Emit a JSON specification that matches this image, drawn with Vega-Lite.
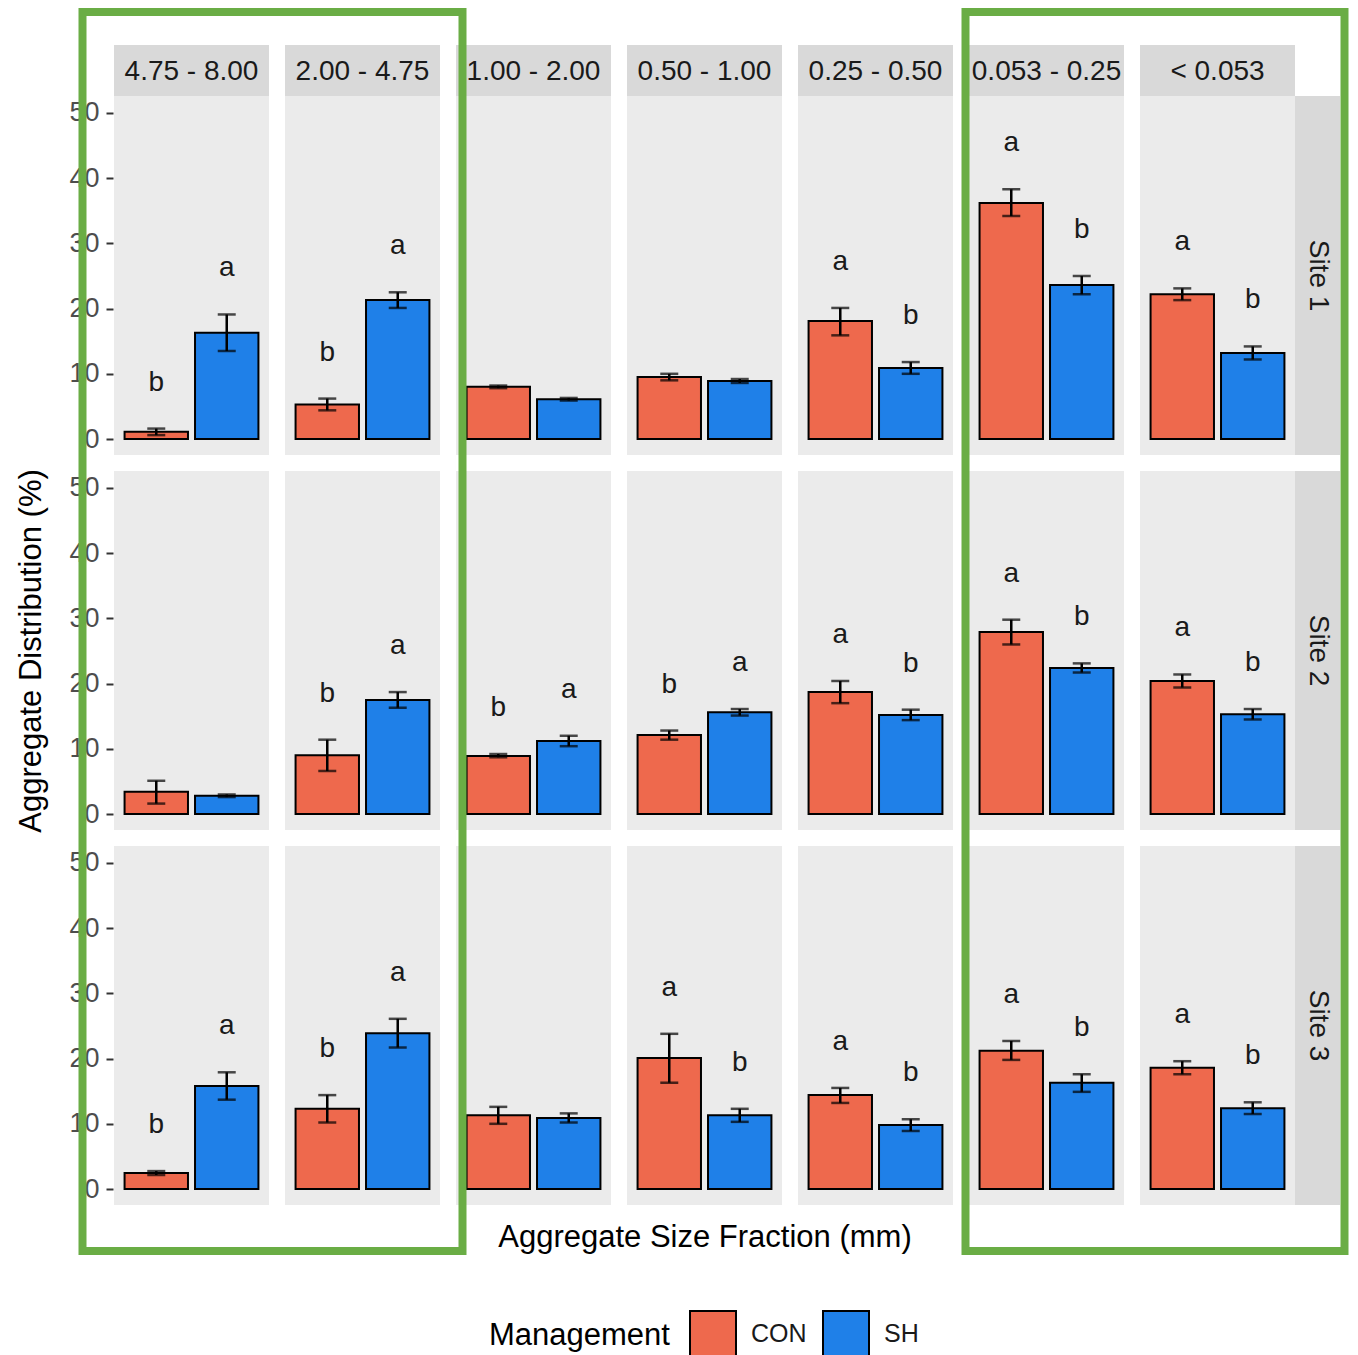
{
  "$schema": "https://vega.github.io/schema/vega-lite/v6.json",
  "background": "white",
  "padding": {"left": 15, "top": 8, "right": 0, "bottom": 0},
  "config": {
    "font": "Liberation Sans",
    "view": {"stroke": null},
    "text": {"font": "Liberation Sans"}
  },
  "datasets": {
    "agg": [
      {"site": "Site 1", "fraction": "4.75 - 8.00", "mgmt": "CON", "mean": 1.1, "lo": 0.6, "hi": 1.6, "letter": "b"},
      {"site": "Site 1", "fraction": "4.75 - 8.00", "mgmt": "SH", "mean": 16.3, "lo": 13.5, "hi": 19.1, "letter": "a"},
      {"site": "Site 1", "fraction": "2.00 - 4.75", "mgmt": "CON", "mean": 5.3, "lo": 4.4, "hi": 6.2, "letter": "b"},
      {"site": "Site 1", "fraction": "2.00 - 4.75", "mgmt": "SH", "mean": 21.3, "lo": 20.1, "hi": 22.5, "letter": "a"},
      {"site": "Site 1", "fraction": "1.00 - 2.00", "mgmt": "CON", "mean": 8.0, "lo": 7.8, "hi": 8.2, "letter": ""},
      {"site": "Site 1", "fraction": "1.00 - 2.00", "mgmt": "SH", "mean": 6.1, "lo": 5.9, "hi": 6.3, "letter": ""},
      {"site": "Site 1", "fraction": "0.50 - 1.00", "mgmt": "CON", "mean": 9.5, "lo": 9.0, "hi": 10.0, "letter": ""},
      {"site": "Site 1", "fraction": "0.50 - 1.00", "mgmt": "SH", "mean": 8.9, "lo": 8.6, "hi": 9.2, "letter": ""},
      {"site": "Site 1", "fraction": "0.25 - 0.50", "mgmt": "CON", "mean": 18.1, "lo": 15.9, "hi": 20.1, "letter": "a"},
      {"site": "Site 1", "fraction": "0.25 - 0.50", "mgmt": "SH", "mean": 10.9, "lo": 10.0, "hi": 11.8, "letter": "b"},
      {"site": "Site 1", "fraction": "0.053 - 0.25", "mgmt": "CON", "mean": 36.2, "lo": 34.2, "hi": 38.3, "letter": "a"},
      {"site": "Site 1", "fraction": "0.053 - 0.25", "mgmt": "SH", "mean": 23.6, "lo": 22.2, "hi": 25.0, "letter": "b"},
      {"site": "Site 1", "fraction": "< 0.053", "mgmt": "CON", "mean": 22.2, "lo": 21.3, "hi": 23.1, "letter": "a"},
      {"site": "Site 1", "fraction": "< 0.053", "mgmt": "SH", "mean": 13.2, "lo": 12.2, "hi": 14.2, "letter": "b"},
      {"site": "Site 2", "fraction": "4.75 - 8.00", "mgmt": "CON", "mean": 3.4, "lo": 1.6, "hi": 5.1, "letter": ""},
      {"site": "Site 2", "fraction": "4.75 - 8.00", "mgmt": "SH", "mean": 2.8, "lo": 2.6, "hi": 3.0, "letter": ""},
      {"site": "Site 2", "fraction": "2.00 - 4.75", "mgmt": "CON", "mean": 9.0, "lo": 6.6, "hi": 11.4, "letter": "b"},
      {"site": "Site 2", "fraction": "2.00 - 4.75", "mgmt": "SH", "mean": 17.5, "lo": 16.3, "hi": 18.7, "letter": "a"},
      {"site": "Site 2", "fraction": "1.00 - 2.00", "mgmt": "CON", "mean": 8.9, "lo": 8.7, "hi": 9.2, "letter": "b"},
      {"site": "Site 2", "fraction": "1.00 - 2.00", "mgmt": "SH", "mean": 11.2, "lo": 10.4, "hi": 12.0, "letter": "a"},
      {"site": "Site 2", "fraction": "0.50 - 1.00", "mgmt": "CON", "mean": 12.1, "lo": 11.4, "hi": 12.8, "letter": "b"},
      {"site": "Site 2", "fraction": "0.50 - 1.00", "mgmt": "SH", "mean": 15.6, "lo": 15.1, "hi": 16.1, "letter": "a"},
      {"site": "Site 2", "fraction": "0.25 - 0.50", "mgmt": "CON", "mean": 18.7, "lo": 17.0, "hi": 20.4, "letter": "a"},
      {"site": "Site 2", "fraction": "0.25 - 0.50", "mgmt": "SH", "mean": 15.2, "lo": 14.4, "hi": 16.0, "letter": "b"},
      {"site": "Site 2", "fraction": "0.053 - 0.25", "mgmt": "CON", "mean": 27.9, "lo": 26.0, "hi": 29.8, "letter": "a"},
      {"site": "Site 2", "fraction": "0.053 - 0.25", "mgmt": "SH", "mean": 22.4, "lo": 21.7, "hi": 23.1, "letter": "b"},
      {"site": "Site 2", "fraction": "< 0.053", "mgmt": "CON", "mean": 20.4, "lo": 19.4, "hi": 21.4, "letter": "a"},
      {"site": "Site 2", "fraction": "< 0.053", "mgmt": "SH", "mean": 15.3, "lo": 14.5, "hi": 16.1, "letter": "b"},
      {"site": "Site 3", "fraction": "4.75 - 8.00", "mgmt": "CON", "mean": 2.45, "lo": 2.15, "hi": 2.75, "letter": "b"},
      {"site": "Site 3", "fraction": "4.75 - 8.00", "mgmt": "SH", "mean": 15.8, "lo": 13.7, "hi": 17.9, "letter": "a"},
      {"site": "Site 3", "fraction": "2.00 - 4.75", "mgmt": "CON", "mean": 12.3, "lo": 10.2, "hi": 14.4, "letter": "b"},
      {"site": "Site 3", "fraction": "2.00 - 4.75", "mgmt": "SH", "mean": 23.9, "lo": 21.7, "hi": 26.1, "letter": "a"},
      {"site": "Site 3", "fraction": "1.00 - 2.00", "mgmt": "CON", "mean": 11.3, "lo": 10.0, "hi": 12.6, "letter": ""},
      {"site": "Site 3", "fraction": "1.00 - 2.00", "mgmt": "SH", "mean": 10.9, "lo": 10.2, "hi": 11.6, "letter": ""},
      {"site": "Site 3", "fraction": "0.50 - 1.00", "mgmt": "CON", "mean": 20.1, "lo": 16.3, "hi": 23.8, "letter": "a"},
      {"site": "Site 3", "fraction": "0.50 - 1.00", "mgmt": "SH", "mean": 11.3, "lo": 10.3, "hi": 12.3, "letter": "b"},
      {"site": "Site 3", "fraction": "0.25 - 0.50", "mgmt": "CON", "mean": 14.4, "lo": 13.2, "hi": 15.5, "letter": "a"},
      {"site": "Site 3", "fraction": "0.25 - 0.50", "mgmt": "SH", "mean": 9.8, "lo": 8.9, "hi": 10.7, "letter": "b"},
      {"site": "Site 3", "fraction": "0.053 - 0.25", "mgmt": "CON", "mean": 21.2, "lo": 19.8, "hi": 22.7, "letter": "a"},
      {"site": "Site 3", "fraction": "0.053 - 0.25", "mgmt": "SH", "mean": 16.3, "lo": 14.9, "hi": 17.6, "letter": "b"},
      {"site": "Site 3", "fraction": "< 0.053", "mgmt": "CON", "mean": 18.6, "lo": 17.6, "hi": 19.6, "letter": "a"},
      {"site": "Site 3", "fraction": "< 0.053", "mgmt": "SH", "mean": 12.4, "lo": 11.5, "hi": 13.3, "letter": "b"}
    ]
  },
  "spacing": 0,
  "hconcat": [
    {
      "spacing": 0,
      "vconcat": [
        {
          "data": {"values": [{}]},
          "width": 1,
          "height": 88,
          "mark": {"type": "point", "opacity": 0, "size": 0, "strokeWidth": 0},
          "encoding": {}
        },
        {
          "data": {"name": "agg"},
          "facet": {
            "row": {
              "field": "site",
              "type": "nominal",
              "header": {
                "labels": false,
                "title": "Aggregate Distribution (%)",
                "titleFont": "Liberation Sans",
                "titleFontSize": 31,
                "titleFontWeight": "normal",
                "titleColor": "#000000",
                "titlePadding": 10
              }
            }
          },
          "spacing": {"row": 16},
          "spec": {
            "width": 1,
            "height": 359,
            "mark": {"type": "point", "opacity": 0, "size": 0, "strokeWidth": 0},
            "encoding": {
              "y": {
                "field": "mean",
                "type": "quantitative",
                "scale": {"domain": [-2.45, 52.6], "nice": false, "zero": false},
                "axis": {
                  "values": [0, 10, 20, 30, 40, 50],
                  "grid": false,
                  "domain": false,
                  "ticks": true,
                  "tickSize": 7,
                  "tickWidth": 2,
                  "tickColor": "#333333",
                  "labelFont": "Liberation Sans",
                  "labelFontSize": 27,
                  "labelColor": "#4D4D4D",
                  "labelPadding": 7,
                  "title": null
                }
              }
            }
          }
        }
      ]
    },
    {
      "spacing": 0,
      "vconcat": [
        {
          "data": {"name": "agg"},
          "width": 1,
          "height": 37,
          "mark": {"type": "point", "size": 0, "strokeWidth": 0, "filled": true, "opacity": 1},
          "encoding": {
            "fill": {
              "field": "mean",
              "type": "quantitative",
              "scale": {"range": ["rgba(0,0,0,0)", "rgba(0,0,0,0)"]},
              "legend": {
                "title": null,
                "type": "gradient",
                "orient": "none",
                "direction": "vertical",
                "legendX": -30.5,
                "legendY": 4,
                "gradientThickness": 380,
                "gradientLength": 1239,
                "gradientStrokeColor": "#6AAD45",
                "gradientStrokeWidth": 8,
                "labelOpacity": 0,
                "labelFontSize": 1
              }
            },
            "stroke": {
              "field": "hi",
              "type": "quantitative",
              "scale": {"range": ["rgba(0,0,0,0)", "rgba(0,0,0,0)"]},
              "legend": {
                "title": null,
                "type": "gradient",
                "orient": "none",
                "direction": "vertical",
                "legendX": 852.5,
                "legendY": 4,
                "gradientThickness": 379,
                "gradientLength": 1239,
                "gradientStrokeColor": "#6AAD45",
                "gradientStrokeWidth": 8,
                "labelOpacity": 0,
                "labelFontSize": 1
              }
            }
          }
        },
        {
          "data": {"name": "agg"},
          "transform": [{"aggregate": [{"op": "count", "as": "n"}], "groupby": ["fraction"]}],
          "facet": {
            "column": {
              "field": "fraction",
              "type": "nominal",
              "sort": ["4.75 - 8.00", "2.00 - 4.75", "1.00 - 2.00", "0.50 - 1.00", "0.25 - 0.50", "0.053 - 0.25", "< 0.053"],
              "header": null
            }
          },
          "spacing": {"column": 16},
          "spec": {
            "width": 155,
            "height": 51,
            "view": {"fill": "#D9D9D9", "stroke": null},
            "mark": {"type": "text", "fontSize": 28, "color": "#1A1A1A", "baseline": "middle", "align": "center", "dy": 1},
            "encoding": {"text": {"field": "fraction", "type": "nominal"}}
          }
        },
        {
          "spacing": 0,
          "hconcat": [
            {
              "data": {"name": "agg"},
              "facet": {
                "row": {"field": "site", "type": "nominal", "header": null},
                "column": {
                  "field": "fraction",
                  "type": "nominal",
                  "sort": ["4.75 - 8.00", "2.00 - 4.75", "1.00 - 2.00", "0.50 - 1.00", "0.25 - 0.50", "0.053 - 0.25", "< 0.053"],
                  "header": {
                    "labels": false,
                    "title": "Aggregate Size Fraction (mm)",
                    "titleOrient": "bottom",
                    "titleFont": "Liberation Sans",
                    "titleFontSize": 31,
                    "titleFontWeight": "normal",
                    "titleColor": "#000000",
                    "titlePadding": 8
                  }
                }
              },
              "spacing": {"row": 16, "column": 16},
              "spec": {
                "width": 155,
                "height": 359,
                "view": {"fill": "#EBEBEB", "stroke": null},
                "encoding": {
                  "x": {
                    "field": "mgmt",
                    "type": "nominal",
                    "scale": {"domain": ["CON", "SH"], "paddingInner": 0.1, "paddingOuter": 0.15},
                    "axis": null
                  }
                },
                "layer": [
                  {
                    "mark": {"type": "bar", "stroke": "black", "strokeWidth": 2, "opacity": 1},
                    "encoding": {
                      "y": {
                        "field": "mean",
                        "type": "quantitative",
                        "scale": {"domain": [-2.45, 52.6], "nice": false, "zero": false},
                        "axis": {
                          "values": [5, 15, 25, 35, 45],
                          "grid": true,
                          "gridColor": "#FFFFFF",
                          "gridWidth": 2,
                          "labels": false,
                          "ticks": false,
                          "domain": false,
                          "title": null
                        }
                      },
                      "y2": {"datum": 0},
                      "color": {
                        "field": "mgmt",
                        "type": "nominal",
                        "scale": {"domain": ["CON", "SH"], "range": ["#EE694D", "#1F80E8"]},
                        "legend": {
                          "title": "Management",
                          "orient": "none",
                          "legendX": 376,
                          "legendY": 1302,
                          "direction": "horizontal",
                          "titleOrient": "left",
                          "titleFont": "Liberation Sans",
                          "titleFontSize": 31,
                          "titleFontWeight": "normal",
                          "titleColor": "#000000",
                          "titleLimit": 400,
                          "titlePadding": 19,
                          "titleAnchor": "middle",
                          "labelFont": "Liberation Sans",
                          "labelFontSize": 25,
                          "labelColor": "#1A1A1A",
                          "labelOffset": 14,
                          "columnPadding": 12,
                          "symbolType": "square",
                          "symbolSize": 2116,
                          "symbolStrokeColor": "#000000",
                          "symbolStrokeWidth": 2,
                          "symbolOpacity": 1
                        }
                      }
                    }
                  },
                  {
                    "mark": {"type": "errorbar", "ticks": true, "size": 18, "thickness": 2.5, "color": "black"},
                    "encoding": {
                      "y": {"field": "lo", "type": "quantitative", "scale": {"domain": [-2.45, 52.6], "nice": false, "zero": false}, "axis": null},
                      "y2": {"field": "hi"}
                    }
                  },
                  {
                    "mark": {"type": "text", "fontSize": 28, "color": "#1A1A1A", "baseline": "middle", "dy": -46},
                    "encoding": {
                      "y": {"field": "hi", "type": "quantitative", "scale": {"domain": [-2.45, 52.6], "nice": false, "zero": false}, "axis": null},
                      "text": {"field": "letter", "type": "nominal"}
                    }
                  }
                ]
              }
            },
            {
              "data": {"name": "agg"},
              "transform": [{"aggregate": [{"op": "count", "as": "n"}], "groupby": ["site"]}],
              "facet": {"row": {"field": "site", "type": "nominal", "header": null}},
              "spacing": {"row": 16},
              "spec": {
                "width": 45,
                "height": 359,
                "view": {"fill": "#D9D9D9", "stroke": null},
                "mark": {"type": "text", "fontSize": 28, "color": "#1A1A1A", "baseline": "middle", "align": "center", "angle": 90},
                "encoding": {"text": {"field": "site", "type": "nominal"}}
              }
            }
          ]
        }
      ]
    }
  ]
}
